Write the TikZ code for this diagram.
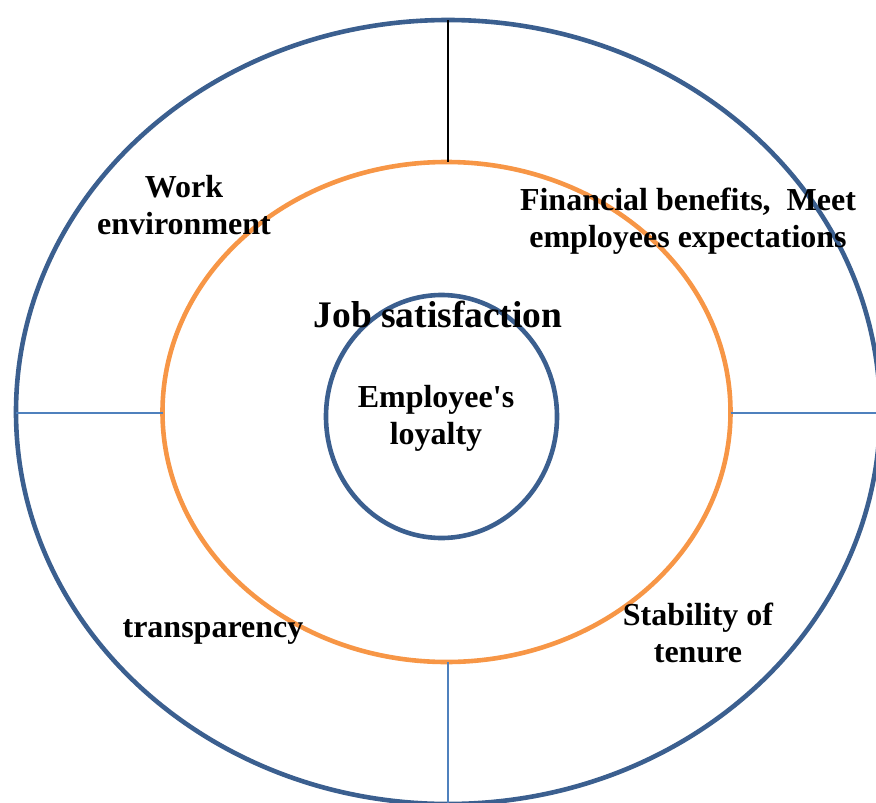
\documentclass[tikz,border=0pt]{standalone}
\usepackage{fontspec}
\setmainfont{Liberation Serif}
\definecolor{ringblue}{HTML}{3B5F8F}
\definecolor{ringorange}{HTML}{F79646}
\definecolor{spoke}{HTML}{4F81BD}
\begin{document}
\begin{tikzpicture}[x=1pt,y=-1pt,
  ring/.style={line width=4.6pt},
  spokeline/.style={draw=spoke,line width=2pt},
  lbl/.style={font=\bfseries\fontsize{32}{37}\selectfont,align=center,inner sep=0pt}]
\useasboundingbox (0,0) rectangle (876,803);
\clip (0,0) rectangle (876,803);
% rings
\draw[ring,draw=ringblue] (448,412) ellipse [x radius=432, y radius=392];
\draw[ring,draw=ringorange] (446.5,412) ellipse [x radius=284, y radius=250];
\draw[ring,draw=ringblue] (441.5,416.5) ellipse [x radius=115.5, y radius=121.5];
% anchor points
\coordinate (ot) at (448,20);
\coordinate (ml) at (162.5,413);
\coordinate (ol) at (16,413);
\coordinate (mr) at (730.5,413);
\coordinate (or) at (880,413);
\coordinate (mt) at (448,162);
\coordinate (mb) at (448,662);
\coordinate (ob) at (448,806);
% spokes
\draw[black,line width=1.6pt] (ot) -- (mt);
\draw[spokeline] (ol) -- (ml);
\draw[spokeline] (mr) -- (or);
\draw[spokeline] (mb) -- (ob);
% labels
\node[lbl] (work) at (184,205) {Work\\environment};
\node[lbl] (fin) at (688,221) {Financial benefits,~~Meet\\employees expectations};
\node[lbl,font=\bfseries\fontsize{37.5}{40}\selectfont] (job) at (438,314) {Job satisfaction};
\node[lbl] (loy) at (436,418) {Employee\textquotesingle s\\loyalty};
\node[lbl] (tr) at (213,632) {transparency};
\node[lbl] (stab) at (698,633) {Stability of\\tenure};
\end{tikzpicture}
\end{document}
